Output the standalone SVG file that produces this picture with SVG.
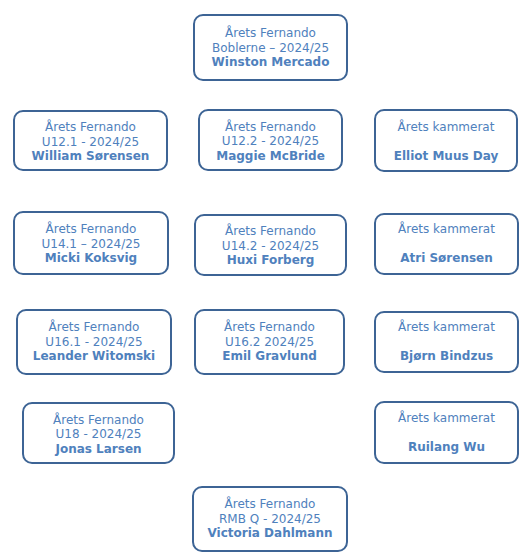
<svg xmlns="http://www.w3.org/2000/svg" width="532" height="559" viewBox="0 0 532 559">
<style>
.box{fill:#ffffff;stroke:#3d6495;stroke-width:2}
text{font-family:"DejaVu Sans","Liberation Sans",sans-serif;font-size:12px;fill:#4f81bd;text-anchor:middle}
.b{font-weight:bold}
</style>
<rect width="532" height="559" fill="#ffffff"/>
<g id="connectors"/>
<g id="n1"><rect class="box" x="194" y="15" width="153" height="65" rx="9"/>
<text x="270.5" y="37">Årets Fernando</text><text x="270.5" y="51.5">Boblerne – 2024/25</text><text class="b" x="270.5" y="66">Winston Mercado</text></g>
<g id="n2"><rect class="box" x="14" y="111" width="153" height="59" rx="9"/>
<text x="90.5" y="131">Årets Fernando</text><text x="90.5" y="145.5">U12.1 - 2024/25</text><text class="b" x="90.5" y="160">William Sørensen</text></g>
<g id="n3"><rect class="box" x="199" y="110" width="143" height="60" rx="9"/>
<text x="270.5" y="130.5">Årets Fernando</text><text x="270.5" y="145">U12.2 - 2024/25</text><text class="b" x="270.5" y="159.5">Maggie McBride</text></g>
<g id="n4"><rect class="box" x="375" y="110" width="142" height="61" rx="9"/>
<text x="446" y="131">Årets kammerat</text><text class="b" x="446" y="160">Elliot Muus Day</text></g>
<g id="n5"><rect class="box" x="14" y="212" width="154" height="62" rx="9"/>
<text x="91" y="233">Årets Fernando</text><text x="91" y="247.5">U14.1 – 2024/25</text><text class="b" x="91" y="262">Micki Koksvig</text></g>
<g id="n6"><rect class="box" x="195" y="215" width="151" height="60" rx="9"/>
<text x="270.5" y="235">Årets Fernando</text><text x="270.5" y="249.5">U14.2 - 2024/25</text><text class="b" x="270.5" y="264">Huxi Forberg</text></g>
<g id="n6b"><rect class="box" x="375" y="214" width="143" height="60" rx="9"/>
<text x="446.5" y="233">Årets kammerat</text><text class="b" x="446.5" y="262">Atri Sørensen</text></g>
<g id="n7"><rect class="box" x="17" y="310" width="154" height="64" rx="9"/>
<text x="94" y="331">Årets Fernando</text><text x="94" y="345.5">U16.1 - 2024/25</text><text class="b" x="94" y="360">Leander Witomski</text></g>
<g id="n8"><rect class="box" x="195" y="310" width="149" height="64" rx="9"/>
<text x="269.5" y="331">Årets Fernando</text><text x="269.5" y="345.5">U16.2 2024/25</text><text class="b" x="269.5" y="360">Emil Gravlund</text></g>
<g id="n9"><rect class="box" x="375" y="312" width="143" height="60" rx="9"/>
<text x="446.5" y="331">Årets kammerat</text><text class="b" x="446.5" y="360">Bjørn Bindzus</text></g>
<g id="n10"><rect class="box" x="23" y="403" width="151" height="60" rx="9"/>
<text x="98.5" y="423.5">Årets Fernando</text><text x="98.5" y="438">U18 - 2024/25</text><text class="b" x="98.5" y="452.5">Jonas Larsen</text></g>
<g id="n11"><rect class="box" x="375" y="402" width="143" height="61" rx="9"/>
<text x="446.5" y="422">Årets kammerat</text><text class="b" x="446.5" y="451">Ruilang Wu</text></g>
<g id="n12"><rect class="box" x="193" y="487" width="154" height="64" rx="9"/>
<text x="270" y="508">Årets Fernando</text><text x="270" y="522.5">RMB Q - 2024/25</text><text class="b" x="270" y="537">Victoria Dahlmann</text></g>
</svg>
